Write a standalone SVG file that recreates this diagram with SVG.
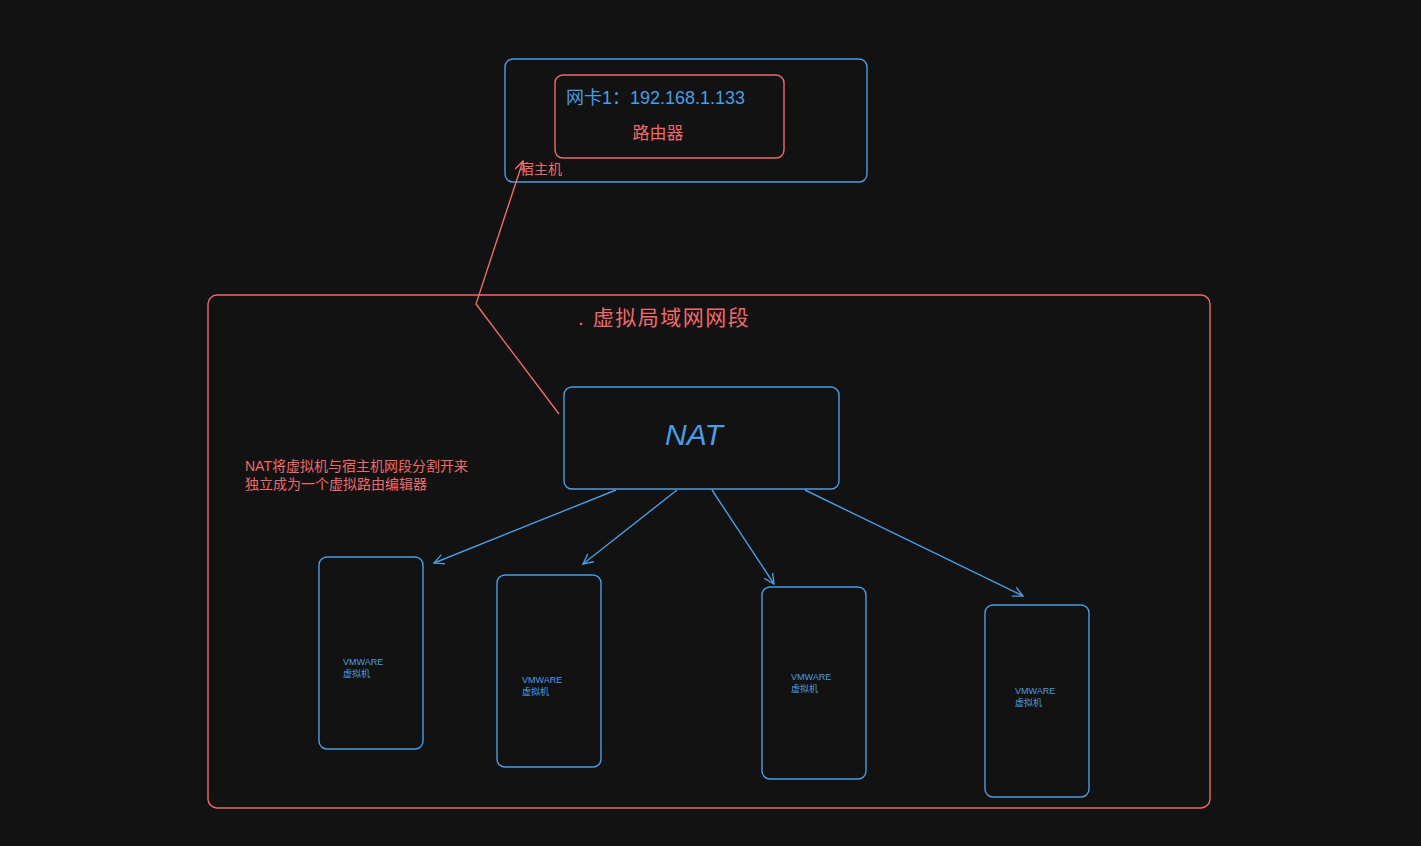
<svg xmlns="http://www.w3.org/2000/svg" width="1421" height="846" viewBox="0 0 1421 846">
<defs>
<style>
.bg{fill:#121212}
.blue{fill:none;stroke:#4a9de4;stroke-width:1.4}
.red{fill:none;stroke:#f06a6a;stroke-width:1.4}
.tb{fill:#4a9de4;font-family:"Liberation Sans","Noto Sans CJK SC",sans-serif}
.tr{fill:#f06a6a;font-family:"Liberation Sans","Noto Sans CJK SC",sans-serif}
.vm{fill:#4a9de4;font-family:"Liberation Sans","Noto Sans CJK SC",sans-serif;font-size:9px}
</style>
<marker id="ab" viewBox="0 0 12 12" refX="11" refY="6" markerWidth="12" markerHeight="12" markerUnits="userSpaceOnUse" orient="auto">
<path d="M1,1 L11,6 L1,11" fill="none" stroke="#4a9de4" stroke-width="1.3"/>
</marker>
<marker id="ar" viewBox="0 0 12 12" refX="11" refY="6" markerWidth="12" markerHeight="12" markerUnits="userSpaceOnUse" orient="auto">
<path d="M1,1 L11,6 L1,11" fill="none" stroke="#f06a6a" stroke-width="1.3"/>
</marker>
</defs>
<rect class="bg" x="0" y="0" width="1421" height="846"/>

<g id="lan">
<rect class="red" x="208" y="295" width="1002" height="513" rx="9"/>
<text class="tr" x="578" y="325" font-size="21" letter-spacing="1.5">. 虚拟局域网网段</text>
</g>

<g id="host">
<rect class="blue" x="505" y="59" width="362" height="123" rx="8"/>
<text class="tr" x="520" y="174" font-size="14">宿主机</text>
</g>

<g id="router">
<rect class="red" x="555" y="75" width="229" height="83" rx="8"/>
<text class="tb" x="566" y="104" font-size="18">网卡1：192.168.1.133</text>
<text class="tr" x="658" y="139" font-size="17" text-anchor="middle">路由器</text>
</g>

<g id="nat">
<rect class="blue" x="564" y="387" width="275" height="102" rx="8"/>
<text class="tb" x="694" y="445" font-size="30" font-style="italic" text-anchor="middle">NAT</text>
</g>

<g id="note">
<text class="tr" x="245" y="471" font-size="14">NAT将虚拟机与宿主机网段分割开来</text>
<text class="tr" x="245" y="489" font-size="14">独立成为一个虚拟路由编辑器</text>
</g>

<g id="vm1">
<rect class="blue" x="319" y="557" width="104" height="192" rx="8"/>
<text class="vm" x="343" y="665">VMWARE</text>
<text class="vm" x="343" y="677">虚拟机</text>
</g>
<g id="vm2">
<rect class="blue" x="497" y="575" width="104" height="192" rx="8"/>
<text class="vm" x="522" y="683">VMWARE</text>
<text class="vm" x="522" y="695">虚拟机</text>
</g>
<g id="vm3">
<rect class="blue" x="762" y="587" width="104" height="192" rx="8"/>
<text class="vm" x="791" y="680">VMWARE</text>
<text class="vm" x="791" y="692">虚拟机</text>
</g>
<g id="vm4">
<rect class="blue" x="985" y="605" width="104" height="192" rx="8"/>
<text class="vm" x="1015" y="694">VMWARE</text>
<text class="vm" x="1015" y="706">虚拟机</text>
</g>

<g id="connectors">
<polyline class="red" points="559,414 476,304 523,161" marker-end="url(#ar)"/>
<line class="blue" x1="616" y1="490" x2="434" y2="563" marker-end="url(#ab)"/>
<line class="blue" x1="677" y1="490" x2="583" y2="564" marker-end="url(#ab)"/>
<line class="blue" x1="712" y1="490" x2="774" y2="584" marker-end="url(#ab)"/>
<line class="blue" x1="805" y1="490" x2="1023" y2="596" marker-end="url(#ab)"/>
</g>
</svg>
